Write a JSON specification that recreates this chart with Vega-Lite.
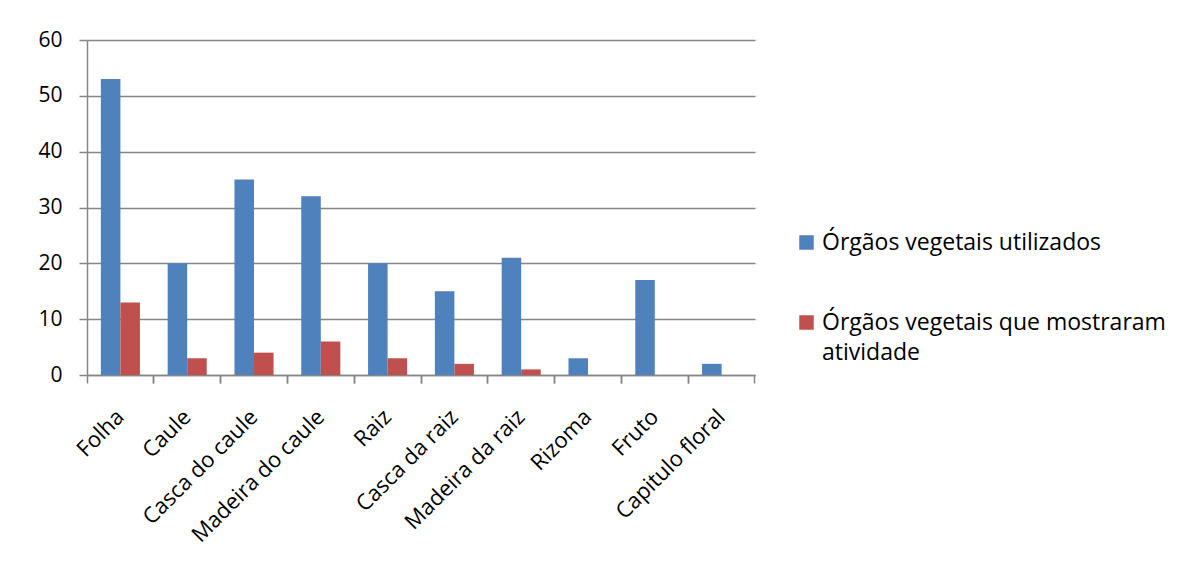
{
  "$schema": "https://vega.github.io/schema/vega-lite/v6.json",
  "autosize": {"type": "none"},
  "padding": {"left": 87, "top": 40, "right": 424, "bottom": 203},
  "width": 668,
  "height": 335,
  "background": "white",
  "data": {
    "values": [
      {"orgao": "Folha", "serie": "Órgãos vegetais utilizados", "valor": 53},
      {"orgao": "Folha", "serie": "Órgãos vegetais que mostraram atividade", "valor": 13},
      {"orgao": "Caule", "serie": "Órgãos vegetais utilizados", "valor": 20},
      {"orgao": "Caule", "serie": "Órgãos vegetais que mostraram atividade", "valor": 3},
      {"orgao": "Casca do caule", "serie": "Órgãos vegetais utilizados", "valor": 35},
      {"orgao": "Casca do caule", "serie": "Órgãos vegetais que mostraram atividade", "valor": 4},
      {"orgao": "Madeira do caule", "serie": "Órgãos vegetais utilizados", "valor": 32},
      {"orgao": "Madeira do caule", "serie": "Órgãos vegetais que mostraram atividade", "valor": 6},
      {"orgao": "Raiz", "serie": "Órgãos vegetais utilizados", "valor": 20},
      {"orgao": "Raiz", "serie": "Órgãos vegetais que mostraram atividade", "valor": 3},
      {"orgao": "Casca da raiz", "serie": "Órgãos vegetais utilizados", "valor": 15},
      {"orgao": "Casca da raiz", "serie": "Órgãos vegetais que mostraram atividade", "valor": 2},
      {"orgao": "Madeira da raiz", "serie": "Órgãos vegetais utilizados", "valor": 21},
      {"orgao": "Madeira da raiz", "serie": "Órgãos vegetais que mostraram atividade", "valor": 1},
      {"orgao": "Rizoma", "serie": "Órgãos vegetais utilizados", "valor": 3},
      {"orgao": "Rizoma", "serie": "Órgãos vegetais que mostraram atividade", "valor": 0},
      {"orgao": "Fruto", "serie": "Órgãos vegetais utilizados", "valor": 17},
      {"orgao": "Fruto", "serie": "Órgãos vegetais que mostraram atividade", "valor": 0},
      {"orgao": "Capitulo floral", "serie": "Órgãos vegetais utilizados", "valor": 2},
      {"orgao": "Capitulo floral", "serie": "Órgãos vegetais que mostraram atividade", "valor": 0}
    ]
  },
  "layer": [
    {
      "mark": {"type": "bar", "opacity": 0},
      "encoding": {
        "x": {
          "field": "orgao",
          "type": "nominal",
          "sort": null,
          "scale": {"paddingInner": 0, "paddingOuter": 0},
          "axis": {
            "title": null,
            "orient": "bottom",
            "bandPosition": 1,
            "labels": false,
            "domain": false,
            "grid": false,
            "tickSize": 8,
            "tickColor": "#868686",
            "tickWidth": 1.5
          }
        },
        "y": {"field": "valor", "type": "quantitative"}
      }
    },
    {
      "mark": {"type": "bar"},
      "encoding": {
        "x": {
          "field": "orgao",
          "type": "nominal",
          "sort": null,
          "scale": {"paddingInner": 0, "paddingOuter": 0},
          "axis": {
            "title": null,
            "orient": "bottom",
            "bandPosition": 0,
            "labelAngle": -45,
            "labelAlign": "right",
            "labelBaseline": "middle",
            "labelPadding": 30,
            "labelFont": "Open Sans",
            "labelFontSize": 22,
            "labelColor": "#000000",
            "labelOffset": 0,
            "labelOverlap": false,
            "tickSize": 8,
            "tickColor": "#868686",
            "tickWidth": 1.5,
            "domainColor": "#868686",
            "domainWidth": 1.5,
            "grid": false
          }
        },
        "xOffset": {
          "field": "serie",
          "type": "nominal",
          "sort": ["Órgãos vegetais utilizados", "Órgãos vegetais que mostraram atividade"],
          "scale": {"paddingInner": 0, "paddingOuter": 0.71}
        },
        "y": {
          "field": "valor",
          "type": "quantitative",
          "scale": {"domain": [0, 60], "nice": false},
          "axis": {
            "title": null,
            "values": [0, 10, 20, 30, 40, 50, 60],
            "labelFont": "Open Sans",
            "labelFontSize": 21,
            "labelColor": "#000000",
            "labelPadding": 17,
            "tickSize": 8,
            "tickColor": "#868686",
            "tickWidth": 1.5,
            "domainColor": "#868686",
            "domainWidth": 1.5,
            "gridColor": "#868686",
            "gridWidth": 1.5
          }
        },
        "color": {
          "field": "serie",
          "type": "nominal",
          "sort": ["Órgãos vegetais utilizados", "Órgãos vegetais que mostraram atividade"],
          "scale": {
            "domain": ["Órgãos vegetais utilizados", "Órgãos vegetais que mostraram atividade"],
            "range": ["#4F81BD", "#C0504D"]
          },
          "legend": {
            "title": null,
            "orient": "none",
            "legendX": 708,
            "legendY": 191,
            "symbolType": "square",
            "symbolSize": 210,
            "symbolStrokeWidth": 0,
            "labelFont": "Open Sans",
            "labelFontSize": 23,
            "labelColor": "#000000",
            "labelLimit": 500,
            "labelOffset": 4,
            "rowPadding": 56,
            "labelExpr": "datum.label == 'Órgãos vegetais que mostraram atividade' ? ['Órgãos vegetais que mostraram', 'atividade'] : datum.label",
            "encode": {
              "labels": {"update": {"lineHeight": {"value": 30}}}
            }
          }
        }
      }
    }
  ],
  "resolve": {"axis": {"x": "independent", "y": "shared"}},
  "config": {
    "view": {"stroke": null}
  }
}
